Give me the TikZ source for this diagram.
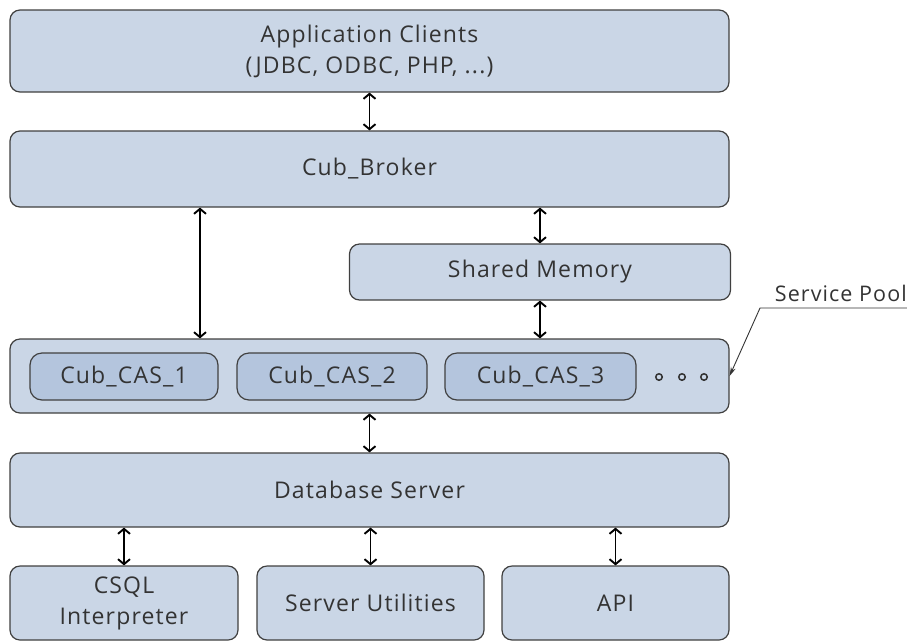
\documentclass[tikz,border=0pt]{standalone}
\usepackage{fontspec}
\setmainfont[LetterSpace=5]{Open Sans}
\usepackage{xcolor}
\usetikzlibrary{arrows.meta, positioning}

\definecolor{boxblue}{RGB}{202,214,230}
\definecolor{casblue}{RGB}{180,197,221}

\begin{document}
\begin{tikzpicture}[
    x=1pt, y=-1pt,
    box/.style={rectangle, rounded corners=10pt, draw=black!75, fill=boxblue, line width=1.2pt, font=\fontsize{23}{31}\selectfont, text=black!80, align=center, inner sep=0pt},
    casbox/.style={box, fill=casblue, rounded corners=12pt},
    arrow/.style={{Straight Barb[length=5pt,width=12pt]}-{Straight Barb[length=5pt,width=12pt]}, line width=1.9pt},
    pointer/.style={-{Stealth[length=9pt,width=5pt]}, line width=0.9pt, draw=black!80}
]
\useasboundingbox (0,0) rectangle (907,641);

\node[box, minimum width=719pt, minimum height=82pt] (clients) at (369.5,51) {Application Clients\\(JDBC, ODBC, PHP, ...)};
\node[box, minimum width=719pt, minimum height=76pt] (broker) at (369.5,169) {Cub\_Broker};
\node[box, minimum width=381pt, minimum height=56pt] (shm) at (540,272) {Shared Memory};
\node[box, minimum width=719pt, minimum height=74pt] (pool) at (369.5,376) {};
\node[casbox, minimum width=188pt, minimum height=47pt] (cas1) at (124,376.5) {Cub\_CAS\_1};
\node[casbox, minimum width=190pt, minimum height=47pt] (cas2) at (332,376.5) {Cub\_CAS\_2};
\node[casbox, minimum width=191pt, minimum height=47pt] (cas3) at (540.5,376.5) {Cub\_CAS\_3};
\foreach \i/\x in {1/659, 2/682, 3/704}
    \node[circle, draw=black!80, fill=boxblue, line width=1.5pt, minimum size=6.5pt, inner sep=0pt] (dot\i) at (\x,377) {};
\node[box, minimum width=719pt, minimum height=74pt] (db) at (369.5,490) {Database Server};
\node[box, minimum width=228pt, minimum height=74pt] (csql) at (124,603) {CSQL\\Interpreter};
\node[box, minimum width=227pt, minimum height=74pt] (utils) at (370.5,603) {Server Utilities};
\node[box, minimum width=227pt, minimum height=74pt] (api) at (615.5,603) {API};

% service pool label
\node[anchor=south east, inner sep=0pt, font=\fontsize{21.5}{26}\selectfont, text=black!80] (poolname) at (907,302) {Service Pool};
\coordinate (bend) at (760,308);

\draw[arrow] (clients.south) -- (broker.north);
\draw[arrow] ([xshift=-169.5pt]broker.south) -- ([xshift=-169.5pt]pool.north);
\draw[arrow] (broker.south -| shm.north) -- (shm.north);
\draw[arrow] (shm.south) -- (pool.north -| shm.south);
\draw[arrow] (pool.south) -- (db.north);
\draw[arrow] (db.south -| csql.north) -- (csql.north);
\draw[arrow] (db.south -| utils.north) -- (utils.north);
\draw[arrow] (db.south -| api.north) -- (api.north);
\draw[pointer] (poolname.south east |- bend) -- (bend) -- (pool.east);

\end{tikzpicture}
\end{document}
